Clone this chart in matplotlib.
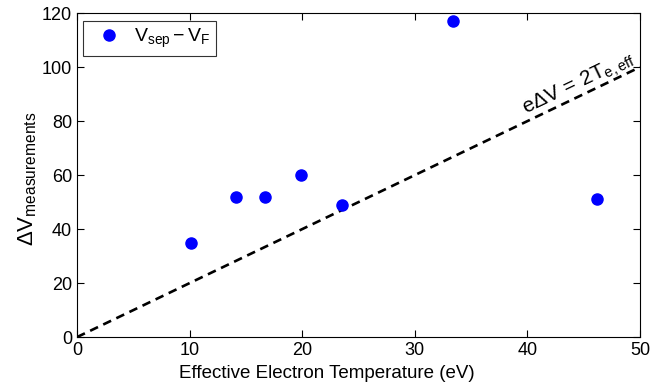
import numpy as np
import matplotlib
matplotlib.use('Agg')
import matplotlib.pyplot as plt

plt.rcParams['font.family'] = ['Liberation Sans', 'DejaVu Sans']
plt.rcParams['mathtext.fontset'] = 'custom'
plt.rcParams['mathtext.rm'] = 'Liberation Sans'
plt.rcParams['mathtext.it'] = 'Liberation Sans'

# ─── data ───
temp_eV = [10.1, 14.1, 16.7, 19.9, 23.5, 33.4, 46.2]
delta_v = [35, 52, 52, 60, 49, 117, 51]
line_x = [0, 50]
line_y = [0, 100]

fig = plt.figure(figsize=(6.53, 3.87), dpi=100)
ax = fig.add_axes([0.118, 0.129, 0.862, 0.837])

ax.plot(line_x, line_y, '--', color='black', linewidth=1.9, dashes=(3.3, 2.2))
ax.plot(temp_eV, delta_v, 'o', color='blue', markersize=8, linestyle='none',
        label=r'$\mathrm{V_{sep}-V_F}$')

ax.set_xlim(0, 50)
ax.set_ylim(0, 120)
ax.set_xticks(np.arange(0, 51, 10))
ax.set_yticks(np.arange(0, 121, 20))
ax.tick_params(direction='in', top=True, right=True, labelsize=13, length=5)
ax.set_xlabel('Effective Electron Temperature (eV)', fontsize=13.5, labelpad=1)
ax.xaxis.set_label_coords(0.444, -0.085)
ax.set_ylabel(r'$\mathrm{\Delta V_{measurements}}$', fontsize=16, labelpad=4)
ax.yaxis.set_label_coords(-0.068, 0.49)

ax.text(44.6, 93.5, r'$\mathrm{e\Delta V\,=\,2T_{e,eff}}$', fontsize=15,
        rotation=25.6, ha='center', va='center', rotation_mode='anchor')

leg = ax.legend(loc='upper left', fontsize=14, frameon=True, fancybox=False,
                edgecolor='black', handletextpad=0.3, borderpad=0.3,
                bbox_to_anchor=(-0.006, 1.006))
leg.get_frame().set_linewidth(0.8)

plt.savefig('out.png', dpi=100)
